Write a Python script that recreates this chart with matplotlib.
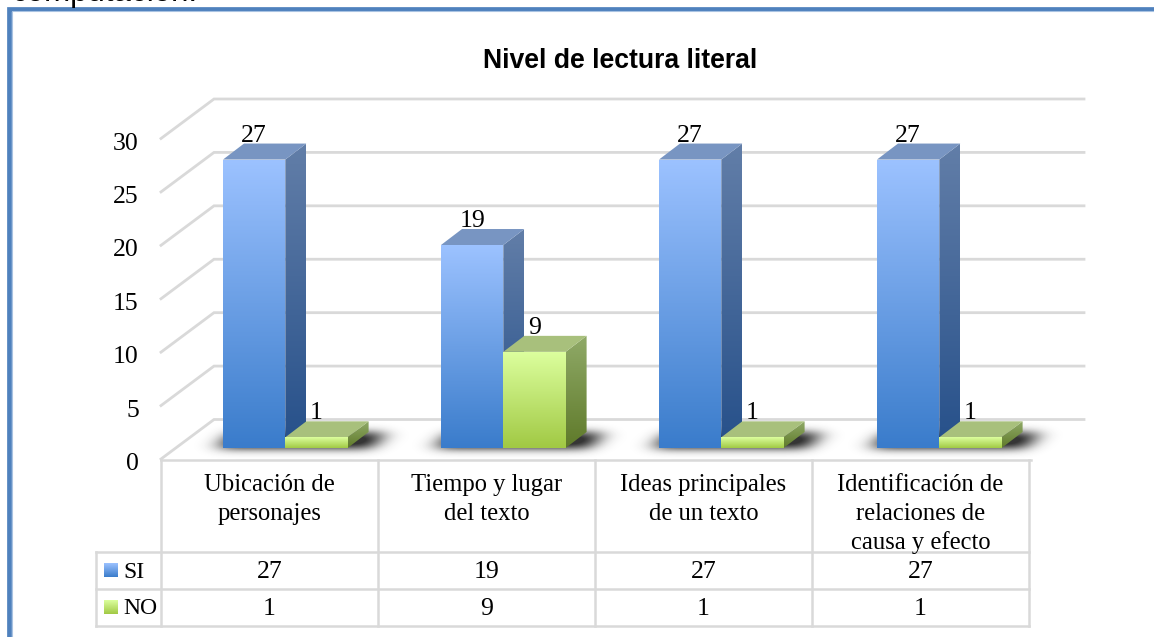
import matplotlib
matplotlib.use("Agg")
import matplotlib.pyplot as plt
import numpy as np
from matplotlib.colors import LinearSegmentedColormap
from matplotlib.patches import Polygon
from matplotlib.transforms import ScaledTranslation

categorias = ["Ubicación de\npersonajes", "Tiempo y lugar\ndel texto",
              "Ideas principales\nde un texto", "Identificación de\nrelaciones de\ncausa y efecto"]
series = ["SI", "NO"]
si = [27, 19, 27, 27]
no = [1, 9, 1, 1]
ticks = [0, 5, 10, 15, 20, 25, 30]
titulo = "Nivel de lectura literal"

SERIF = "Liberation Serif"
GRID = "#d9d9d9"
W, H = 1154, 637
# frente, lado, arriba
azul = (("#9cc2ff", "#3a7ccb"), ("#627ea8", "#26508a"), "#7895c2")
verde = (("#dcff9e", "#a1c944"), ("#90aa68", "#5f7a2a"), "#a8c07c")

fig = plt.figure(figsize=(W / 100, H / 100), dpi=100)

# ejes en pixeles para el marco y la tabla
bg = fig.add_axes([0, 0, 1, 1])
bg.set_xlim(0, W)
bg.set_ylim(H, 0)
bg.axis("off")

# ejes del grafico: x en categorias, y en valores
x0, x1, y0, y30 = 161, 1033, 459, 138.5
ax = fig.add_axes([x0 / W, 1 - y0 / H, (x1 - x0) / W, (y0 - y30) / H], zorder=2)
ax.patch.set_alpha(0)
px_x = 4 / (x1 - x0)
px_y = 30 / (y0 - y30)

# texto cortado de arriba y marco azul
bg.text(12, 0.5, "computación.", fontsize=22.5, family="Liberation Sans", va="baseline", color="black")
bg.plot([8.5, 8.5, W], [H, 8.5, 8.5], color="#4f81bd", lw=3.4, solid_joinstyle="miter", zorder=2)
bg.plot([11.5, 11.5, W], [H, 11, 11], color="#a9c3e2", lw=0.8, solid_joinstyle="miter", zorder=2)


def grad(a, poly, c_top, c_bot, ext):
    cm = LinearSegmentedColormap.from_list("g", [c_top, c_bot])
    im = a.imshow(np.linspace(0, 1, 200).reshape(-1, 1), cmap=cm, extent=ext, aspect="auto",
                  origin="upper", interpolation="bilinear", zorder=4)
    im.set_clip_path(Polygon(poly, transform=a.transData))
    return im


def barra(i, j, v, col):
    dx, dy = 21 * px_x, 16 * px_y
    base = 11 * px_y
    bw = 62.3 * px_x
    left = i + 62 * px_x + j * bw
    right = left + bw
    low = base
    top = base + v
    front = [(left, low), (right, low), (right, top), (left, top)]
    side = [(right, low), (right + dx, low + dy), (right + dx, top + dy), (right, top)]
    tapa = [(left, top), (right, top), (right + dx, top + dy), (left + dx, top + dy)]
    grad(ax, side, col[1][0], col[1][1], (right, right + dx, low, top + dy))
    ax.add_patch(Polygon(tapa, closed=True, fc=col[2], ec="none", zorder=4, clip_on=False))
    grad(ax, front, col[0][0], col[0][1], (left, right, low, top))
    ax.text((left + right) / 2, top + 24 * px_y, str(v), ha="center", va="center",
            fontsize=18.5, family=SERIF, zorder=6, clip_on=False)


# lineas de la cuadricula
for t in ticks:
    ax.plot([0, 53 * px_x, 923 * px_x], [t, t + 39.5 * px_y, t + 39.5 * px_y], color=GRID, lw=2,
            clip_on=False, zorder=1, solid_joinstyle="miter")

# sombras debajo de cada grupo, difuminadas
yy, xx = np.mgrid[400:475, 0:W]
mask = np.zeros(xx.shape)
for i in range(4):
    a = x0 + 218 * i + 62
    u = xx + (yy - 449)
    mask[(u > a - 10) & (u < a + 148) & (yy > 431) & (yy < 449)] = 1
k = np.exp(-0.5 * (np.arange(-36, 37) / 11.0) ** 2)
k = k / k.sum()
mask = np.apply_along_axis(lambda r: np.convolve(r, k, mode="same"), 1, mask)
k = np.exp(-0.5 * (np.arange(-15, 16) / 4.5) ** 2)
k = k / k.sum()
mask = np.apply_along_axis(lambda r: np.convolve(r, k, mode="same"), 0, mask)
rgba = np.zeros(xx.shape + (4,))
rgba[..., :3] = 0.12
rgba[..., 3] = np.clip(mask ** 1.2 * 1.1, 0, 0.9)
bg.imshow(rgba, extent=(0, W, 475, 400), aspect="auto", zorder=3, interpolation="bilinear")
bg.set_xlim(0, W)
bg.set_ylim(H, 0)

for i in range(4):
    barra(i, 0, si[i], azul)
    barra(i, 1, no[i], verde)

ax.set_xlim(0, 4)
ax.set_ylim(0, 30)
ax.set_xticks([])
ax.set_yticks(ticks)
ax.set_yticklabels([str(t) for t in ticks], fontsize=18.5, family=SERIF)
ax.tick_params(axis="y", length=0, pad=16)
bajar = ScaledTranslation(0, -2.5 / 100, fig.dpi_scale_trans)
for lab in ax.get_yticklabels():
    lab.set_transform(lab.get_transform() + bajar)
for s in ax.spines.values():
    s.set_visible(False)

bg.text(620.5, 61.5, titulo, fontsize=19.2, fontweight="bold", family="Liberation Sans",
        ha="center", va="center")

# tabla de datos
cols = [161 + 217 * k for k in range(5)]
filas = [459.5, 551.5, 589, 626]
for f in filas[1:]:
    bg.plot([96, cols[-1]], [f, f], color=GRID, lw=1.8, zorder=1)
bg.plot([cols[0], cols[-1] + 2], [filas[0], filas[0]], color=GRID, lw=1.8, zorder=1)
for c in cols:
    bg.plot([c, c], [filas[0], filas[-1]], color=GRID, lw=1.8, zorder=1)
bg.plot([96, 96], [filas[1], filas[-1]], color=GRID, lw=1.8, zorder=1)

for i, nombre in enumerate(categorias):
    cx = (cols[i] + cols[i + 1]) / 2
    for k, linea in enumerate(nombre.split("\n")):
        bg.text(cx, 485 + 28.7 * k, linea, ha="center", va="center", fontsize=17.7, family=SERIF)
    bg.text(cx, 572, str(si[i]), ha="center", va="center", fontsize=18.5, family=SERIF)
    bg.text(cx, 609, str(no[i]), ha="center", va="center", fontsize=18.5, family=SERIF)

for nombre, col, yc in zip(series, (azul, verde), (570, 607)):
    rect = [(104, yc - 7), (118, yc - 7), (118, yc + 7), (104, yc + 7)]
    grad(bg, rect, col[0][0], col[0][1], (104, 118, yc + 7, yc - 7))
    bg.text(123, yc + 2, nombre, ha="left", va="center", fontsize=17, family=SERIF)
bg.set_xlim(0, W)
bg.set_ylim(H, 0)

fig.savefig("out.png", dpi=100)
